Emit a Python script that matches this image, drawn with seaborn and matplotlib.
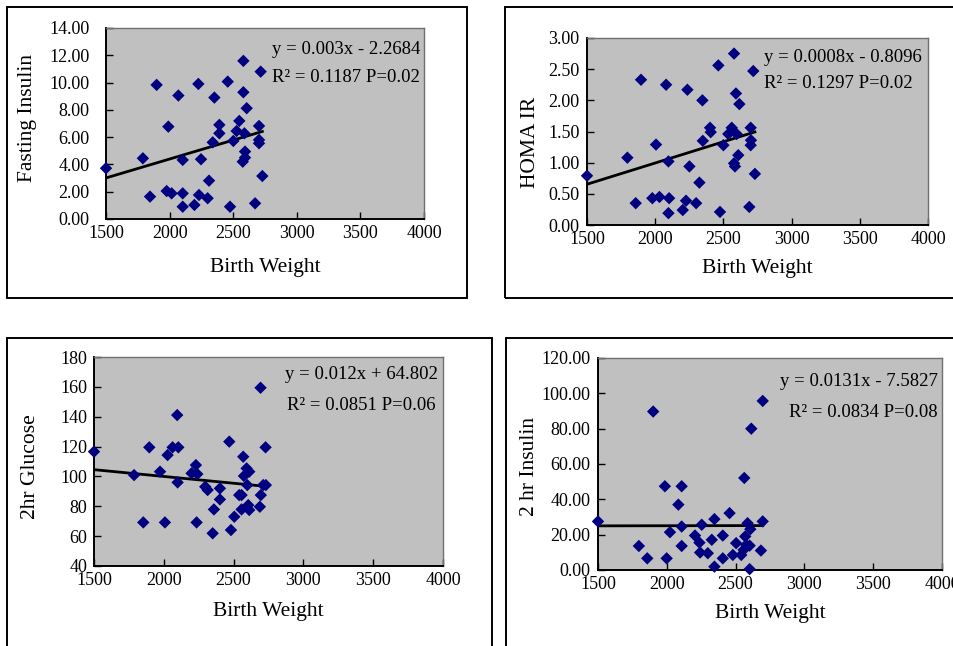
import numpy as np
import pandas as pd
import matplotlib
matplotlib.use("Agg")
import matplotlib.pyplot as plt
import seaborn as sns
from matplotlib.patches import Rectangle
from matplotlib.ticker import FormatStrFormatter

# ---------------- data ----------------
bw_fasting = [1500, 1790, 1846, 1898, 1977, 1990, 2016, 2069, 2103, 2103, 2103, 2195, 2226, 2231,
              2247, 2299, 2310, 2339, 2352, 2391, 2391, 2457, 2475, 2501, 2527, 2548, 2580, 2580,
              2588, 2593, 2575, 2593, 2606, 2672, 2703, 2703, 2703, 2716, 2729]
fasting_insulin = [3.72, 4.45, 1.64, 9.83, 2.05, 6.77, 1.88, 9.05, 1.88, 4.33, 0.90, 1.03, 9.90, 1.76,
                   4.38, 1.52, 2.81, 5.62, 8.90, 6.90, 6.28, 10.07, 0.90, 5.72, 6.45, 7.19, 11.59, 9.29,
                   6.28, 4.94, 4.20, 4.50, 8.12, 1.15, 6.82, 5.80, 5.55, 10.80, 3.15]

bw_homa = [1500, 1796, 1857, 1896, 1979, 2006, 2031, 2080, 2097, 2102, 2097, 2202, 2226, 2236,
           2251, 2300, 2324, 2346, 2349, 2402, 2407, 2463, 2475, 2500, 2536, 2561, 2578, 2578,
           2585, 2592, 2597, 2609, 2617, 2690, 2700, 2702, 2700, 2719, 2731]
homa_ir = [0.79, 1.08, 0.35, 2.33, 0.43, 1.29, 0.45, 2.25, 1.02, 0.43, 0.19, 0.24, 0.39, 2.17,
           0.94, 0.35, 0.68, 2.00, 1.35, 1.56, 1.49, 2.56, 0.21, 1.28, 1.46, 1.56, 2.75, 0.99,
           0.94, 2.11, 1.46, 1.12, 1.94, 0.29, 1.56, 1.36, 1.28, 2.47, 0.82]

bw_glucose = [1500, 1787, 1853, 1896, 1973, 2008, 2027, 2063, 2096, 2104, 2099, 2199, 2230, 2240,
              2235, 2297, 2314, 2350, 2359, 2402, 2402, 2469, 2481, 2505, 2540, 2557, 2557, 2569,
              2574, 2593, 2598, 2612, 2605, 2612, 2688, 2693, 2695, 2712, 2729, 2731]
glucose_2hr = [116.6, 100.9, 69.2, 119.5, 103.2, 69.2, 114.3, 119.5, 141.1, 119.5, 96.0, 102.1, 107.6,
               101.6, 69.2, 93.1, 90.9, 61.9, 77.9, 92.0, 84.6, 123.3, 64.1, 73.0, 87.5, 87.5, 77.9,
               113.2, 100.3, 105.4, 94.2, 103.2, 80.8, 77.5, 79.7, 159.4, 87.5, 94.2, 119.5, 94.2]

bw_ins2 = [1500, 1797, 1858, 1901, 1986, 1999, 2023, 2084, 2108, 2108, 2108, 2205, 2237, 2242,
           2254, 2298, 2327, 2346, 2346, 2407, 2407, 2456, 2480, 2504, 2541, 2558, 2563, 2570,
           2577, 2587, 2602, 2602, 2607, 2614, 2684, 2697, 2697]
insulin_2hr = [27.5, 13.6, 6.6, 89.7, 47.4, 6.6, 21.4, 37.0, 47.4, 24.6, 13.6, 19.5, 15.5, 9.9,
               25.6, 9.5, 17.1, 28.8, 1.9, 19.5, 6.6, 32.2, 8.5, 15.2, 8.5, 11.4, 52.1, 19.0,
               14.2, 26.5, 13.8, 0.5, 23.1, 80.0, 11.0, 27.5, 95.7]

x_ticks = [1500, 2000, 2500, 3000, 3500, 4000]
x_label = "Birth Weight"
y_labels = ["Fasting Insulin", "HOMA IR", "2hr Glucose", "2 hr Insulin"]
eq_lines = [("y = 0.003x - 2.2684", "R² = 0.1187 P=0.02"),
            ("y = 0.0008x - 0.8096", "R² = 0.1297 P=0.02"),
            ("y = 0.012x + 64.802", "R² = 0.0851 P=0.06"),
            ("y = 0.0131x - 7.5827", "R² = 0.0834 P=0.08")]
y_ticks = [np.arange(0, 14.01, 2.0), np.arange(0, 3.01, 0.5),
           np.arange(40, 181, 20), np.arange(0, 120.1, 20)]

# ---------------- style ----------------
plt.rcParams['font.family'] = ['Liberation Serif', 'DejaVu Serif']
W, H = 954, 646
fig = plt.figure(figsize=(W / 100, H / 100), dpi=100)
fig.patch.set_facecolor('white')

def px_rect(x0, y0, x1, y1):
    return [x0 / W, 1 - y1 / H, (x1 - x0) / W, (y1 - y0) / H]

# axes (plot areas) in pixels: left, top, right, bottom
plot_px = [(106, 28, 424, 219), (587, 38, 928, 225), (94, 357, 443, 566), (598, 358, 942, 570)]
# panel frames in pixels
frame_px = [(7, 7, 467, 298), (505, 7, 970, 298), (7, 338, 492, 660), (506, 338, 970, 660)]

datasets = [(bw_fasting, fasting_insulin), (bw_homa, homa_ir),
            (bw_glucose, glucose_2hr), (bw_ins2, insulin_2hr)]
fmts = ['%.2f', '%.2f', '%d', '%.2f']
ytick_pads = [12, 5.5, 5, 5.5]
xlabel_pos = [(0.5, -0.2565), (0.4985, -0.23), (0.4986, -0.22), (0.5, -0.203)]
ylabel_pos = [(-0.248, 0.529), (-0.167, 0.444), (-0.183, 0.474), (-0.198, 0.49)]
eq_pos = [((0.522, 0.885), (0.522, 0.743), 'left'),
          ((0.519, 0.898), (0.519, 0.759), 'left'),
          ((0.547, 0.914), (0.552, 0.770), 'left'),
          ((0.988, 0.887), (0.988, 0.741), 'right')]

for f in frame_px:
    fig.add_artist(Rectangle((f[0] / W, 1 - f[3] / H), (f[2] - f[0]) / W, (f[3] - f[1]) / H,
                             transform=fig.transFigure, fill=False, ec='black', lw=1.4))

for i in range(4):
    ax = fig.add_axes(px_rect(*plot_px[i]))
    ax.set_facecolor('#C0C0C0')
    x, y = datasets[i]
    df = pd.DataFrame({'bw': x, 'val': y})
    sns.regplot(data=df, x='bw', y='val', ax=ax, scatter=False, ci=None, truncate=True,
                line_kws=dict(color='black', lw=2.0, zorder=2))
    sns.scatterplot(data=df, x='bw', y='val', ax=ax, marker='D', s=40, color='#000080',
                    edgecolor='none', linewidth=0, zorder=3, clip_on=False)
    yt = y_ticks[i]
    ax.set_xlim(1500, 4000)
    ax.set_ylim(yt[0], yt[-1])
    ax.set_xticks(x_ticks)
    ax.set_yticks(yt)
    ax.yaxis.set_major_formatter(FormatStrFormatter(fmts[i]))
    ax.tick_params(axis='both', direction='in', length=5, width=1, color='black',
                   labelsize=13, labelcolor='black')
    ax.tick_params(axis='y', pad=ytick_pads[i])
    ax.tick_params(axis='x', pad=4)
    for s in ['left', 'bottom']:
        ax.spines[s].set_color('black')
        ax.spines[s].set_linewidth(1.4)
    for s in ['top', 'right']:
        ax.spines[s].set_color('#707070')
        ax.spines[s].set_linewidth(1.0)
    ax.set_xlabel(x_label, fontsize=15.5)
    ax.set_ylabel(y_labels[i], fontsize=15.5)
    ax.xaxis.set_label_coords(*xlabel_pos[i])
    ax.yaxis.set_label_coords(*ylabel_pos[i])
    ax.xaxis.label.set_va('center')
    ax.yaxis.label.set_va('center')
    ax.grid(False)
    (p1, p2, ha) = eq_pos[i]
    ax.text(p1[0], p1[1], eq_lines[i][0], transform=ax.transAxes, ha=ha, va='center', fontsize=13.5)
    ax.text(p2[0], p2[1], eq_lines[i][1], transform=ax.transAxes, ha=ha, va='center', fontsize=13.5)

fig.savefig('out.png', dpi=100)
